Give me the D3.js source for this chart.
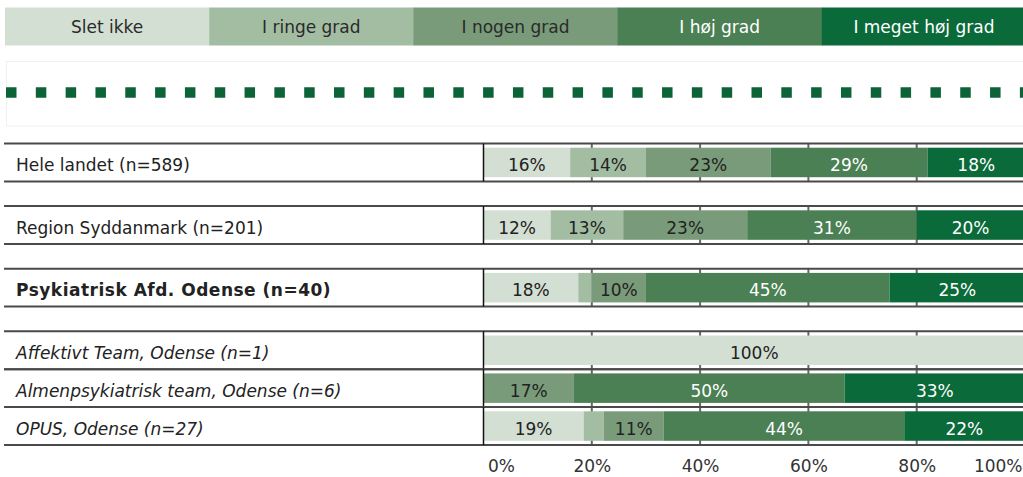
<!DOCTYPE html>
<html>
<head>
<meta charset="utf-8">
<script src="https://cdn.jsdelivr.net/npm/d3@7"></script>
<style>
  body { margin: 0; background: #fff; }
  svg { display: block; font-family: "DejaVu Sans", Verdana, sans-serif; }
</style>
</head>
<body>
<svg id="chart" width="1023" height="477"></svg>
<script>
"use strict";

// answer categories + colours
var categories = ["Slet ikke", "I ringe grad", "I nogen grad", "I høj grad", "I meget høj grad"];
var catColors = ["#d3dfd3", "#a3bda3", "#799b79", "#4b7f54", "#0a6a3a"];

// rows (group: 0 land, 1 region, 2 afdeling, 3 teams)
var rowNames = [
    "Hele landet (n=589)",
    "Region Syddanmark (n=201)",
    "Psykiatrisk Afd. Odense (n=40)",
    "Affektivt Team, Odense (n=1)",
    "Almenpsykiatrisk team, Odense (n=6)",
    "OPUS, Odense (n=27)"
];
var rowGroups = [0, 1, 2, 3, 3, 3];

// percentages per category
var sletIkke      = [16, 12.4, 17.5, 100, 0, 18.5];
var ringeGrad     = [14, 13.4, 2.5, 0, 0, 3.7];
var nogenGrad     = [23, 22.9, 10, 0, 16.7, 11.1];
var hoejGrad      = [29, 31.3, 45, 0, 50, 44.4];
var megetHoejGrad = [18, 19.9, 25, 0, 33.3, 22.2];

var tickValues = [0, 20, 40, 60, 80, 100];

var series = [sletIkke, ringeGrad, nogenGrad, hoejGrad, megetHoejGrad];

var svg = d3.select("#chart");
var W = 1023;

// ---- legend
var legendX = d3.scaleBand().domain(categories).range([5, 1026]);
var legend = svg.append("g");
legend.selectAll("rect")
    .data(categories)
    .enter()
    .append("rect")
    .attr("x", d => legendX(d))
    .attr("y", 7.5)
    .attr("width", legendX.bandwidth() + 0.5)
    .attr("height", 38)
    .attr("fill", (d, i) => catColors[i]);
legend.selectAll("text")
    .data(categories)
    .enter()
    .append("text")
    .attr("x", d => legendX(d) + legendX.bandwidth() / 2)
    .attr("y", 32.5)
    .attr("text-anchor", "middle")
    .style("font-size", "17px")
    .style("fill", (d, i) => i >= 3 ? "#ffffff" : "#2a2a2a")
    .text(d => d);

// ---- dotted separator
svg.append("rect")
    .attr("x", 6.5).attr("y", 61.5)
    .attr("width", 1030).attr("height", 64.5)
    .attr("fill", "none")
    .attr("stroke", "#f0f0f0");
svg.append("line")
    .attr("x1", 6).attr("x2", W)
    .attr("y1", 92.5).attr("y2", 92.5)
    .attr("stroke", "#0b6337")
    .attr("stroke-width", 10.5)
    .attr("stroke-dasharray", "10.5,19.32");

// ---- rows
var gapRatio = 0.652;
var slots = rowNames.length + 3 * gapRatio;
var y = d3.scaleLinear().domain([0, slots]).range([143.5, 445]);
var step = y(1) - y(0);
var barH = 29.5;
var x = d3.scaleLinear().domain([0, 100]).range([483.5, 1025]);

var rows = rowNames.map(function(name, i) {
    var top = y(i + rowGroups[i] * gapRatio);
    var cum = 0;
    var segs = series.map(function(s, c) {
        var seg = {cat: c, value: s[i], x0: cum, x1: cum + s[i]};
        cum += s[i];
        return seg;
    });
    return {name: name, group: rowGroups[i], top: top, segs: segs};
});

var rowG = svg.append("g").selectAll("g")
    .data(rows)
    .enter()
    .append("g")
    .attr("transform", d => "translate(0," + d.top + ")");

// grid ticks inside each row band (covered by bars)
rowG.selectAll("line.grid")
    .data(tickValues.slice(1, -1))
    .enter()
    .append("line")
    .attr("class", "grid")
    .attr("x1", d => x(d)).attr("x2", d => x(d))
    .attr("y1", 0).attr("y2", step)
    .attr("stroke", "#666")
    .attr("stroke-width", 2);

var bar = (step - barH) / 2;
rowG.selectAll("rect")
    .data(d => d.segs.filter(s => s.value > 0))
    .enter()
    .append("rect")
    .attr("x", d => x(d.x0))
    .attr("y", bar)
    .attr("width", d => x(d.x1) - x(d.x0))
    .attr("height", barH)
    .attr("fill", d => catColors[d.cat]);

rowG.selectAll("text.val")
    .data(d => d.segs.filter(s => s.value >= 5))
    .enter()
    .append("text")
    .attr("class", "val")
    .attr("x", d => (x(d.x0) + x(d.x1)) / 2)
    .attr("y", step / 2 + 8.5)
    .attr("text-anchor", "middle")
    .style("font-size", "17px")
    .style("fill", d => d.cat >= 3 ? "#ffffff" : "#222")
    .text(d => Math.round(d.value) + "%");

// row labels
rowG.append("text")
    .attr("x", 16)
    .attr("y", step / 2 + 8.5)
    .style("font-size", "17px")
    .style("fill", "#222")
    .style("font-weight", d => d.group === 2 ? "bold" : "normal")
    .style("letter-spacing", d => d.group === 2 ? "0.5px" : "0px")
    .style("font-style", d => d.group === 3 ? "italic" : "normal")
    .text(d => d.name);

// horizontal rules
rowG.selectAll("line.rule")
    .data([0, step])
    .enter()
    .append("line")
    .attr("class", "rule")
    .attr("x1", 4).attr("x2", W)
    .attr("y1", d => d).attr("y2", d => d)
    .attr("stroke", "#4a4a4a")
    .attr("stroke-width", 2);

// zero line
rowG.append("line")
    .attr("x1", x(0)).attr("x2", x(0))
    .attr("y1", 0).attr("y2", step)
    .attr("stroke", "#111")
    .attr("stroke-width", 1.5);

// ---- x axis
var axis = svg.append("g")
    .attr("transform", "translate(0,457)")
    .call(d3.axisBottom(x).tickValues(tickValues).tickFormat(d => d + "%").tickSize(0).tickPadding(3));
axis.select(".domain").remove();
axis.selectAll("text")
    .style("font-size", "17px")
    .style("font-family", "DejaVu Sans, Verdana, sans-serif")
    .style("fill", "#333");
axis.selectAll(".tick").filter(d => d === 0).select("text")
    .attr("text-anchor", "start").attr("x", 4);
axis.selectAll(".tick").filter(d => d === 100).select("text")
    .attr("text-anchor", "end").attr("x", -3);
</script>
</body>
</html>
